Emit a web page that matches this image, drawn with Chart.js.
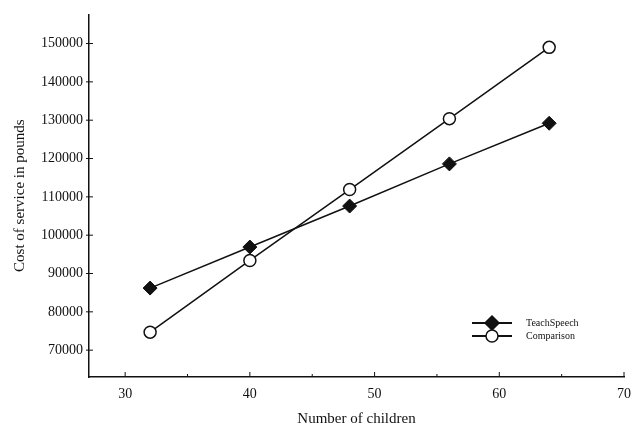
<!DOCTYPE html>
<html>
<head>
<meta charset="utf-8">
<script src="https://cdn.jsdelivr.net/npm/chart.js@4/dist/chart.umd.min.js"></script>
<style>
  html, body { margin: 0; padding: 0; background: #fff; }
  #wrap { width: 632px; height: 433px; }
</style>
</head>
<body>
<div id="wrap"><canvas id="chart" width="632" height="433"></canvas></div>
<script>
// data
const children = [32, 40, 48, 56, 64];
const teachSpeech = [86200, 96900, 107600, 118600, 129200];
const comparison = [74700, 93400, 111900, 130400, 149000];
const xTicks = [30, 40, 50, 60, 70];
const yTicks = [70000, 80000, 90000, 100000, 110000, 120000, 130000, 140000, 150000];
const seriesNames = ["TeachSpeech", "Comparison"];

const serif = "'Liberation Serif', 'DejaVu Serif', serif";
const ink = "#111";

function toPoints(xs, ys) {
  return xs.map((x, i) => ({ x: x, y: ys[i] }));
}

// small ticks like the original plot
const innerTicks = {
  id: "innerTicks",
  afterDraw(chart) {
    const ctx = chart.ctx;
    const xs = chart.scales.x;
    const ys = chart.scales.y;
    const area = chart.chartArea;
    ctx.save();
    ctx.strokeStyle = ink;
    ctx.lineWidth = 1;
    ctx.beginPath();
    xTicks.forEach(v => {
      const px = xs.getPixelForValue(v);
      ctx.moveTo(px, area.bottom);
      ctx.lineTo(px, area.bottom - 5);
    });
    xTicks.slice(0, -1).forEach(v => {
      const px = xs.getPixelForValue(v + 5);
      ctx.moveTo(px, area.bottom);
      ctx.lineTo(px, area.bottom - 3);
    });
    yTicks.forEach(v => {
      const py = ys.getPixelForValue(v);
      ctx.moveTo(area.left - 3, py);
      ctx.lineTo(area.left + 4, py);
    });
    ctx.stroke();
    ctx.restore();
  }
};

// legend drawn inside the plot, bottom right
const lineLegend = {
  id: "lineLegend",
  afterDraw(chart) {
    const ctx = chart.ctx;
    const area = chart.chartArea;
    const x0 = area.right - 152;
    const y0 = area.bottom - 54;
    ctx.save();
    chart.data.datasets.forEach((ds, i) => {
      const y = y0 + i * 13;
      ctx.strokeStyle = ink;
      ctx.lineWidth = 2;
      ctx.beginPath();
      ctx.moveTo(x0, y);
      ctx.lineTo(x0 + 40, y);
      ctx.stroke();
      ctx.lineWidth = 1.5;
      ctx.fillStyle = ds.pointBackgroundColor;
      ctx.beginPath();
      if (ds.pointStyle === "rectRot") {
        const r = 7;
        ctx.moveTo(x0 + 20, y - r);
        ctx.lineTo(x0 + 20 + r, y);
        ctx.lineTo(x0 + 20, y + r);
        ctx.lineTo(x0 + 20 - r, y);
        ctx.closePath();
      } else {
        ctx.arc(x0 + 20, y, 6, 0, Math.PI * 2);
      }
      ctx.fill();
      ctx.stroke();
      ctx.fillStyle = ink;
      ctx.font = "10px " + serif;
      ctx.textBaseline = "middle";
      ctx.fillText(ds.label, x0 + 54, y);
    });
    ctx.restore();
  }
};

new Chart(document.getElementById("chart"), {
  type: "line",
  data: {
    datasets: [
      {
        label: seriesNames[0],
        data: toPoints(children, teachSpeech),
        borderColor: ink,
        borderWidth: 1.5,
        pointStyle: "rectRot",
        pointRadius: 7,
        pointBackgroundColor: ink,
        pointBorderColor: ink,
        pointBorderWidth: 1
      },
      {
        label: seriesNames[1],
        data: toPoints(children, comparison),
        borderColor: ink,
        borderWidth: 1.5,
        pointStyle: "circle",
        pointRadius: 6,
        pointBackgroundColor: "#fff",
        pointBorderColor: ink,
        pointBorderWidth: 1.5
      }
    ]
  },
  options: {
    responsive: false,
    animation: false,
    layout: { padding: { top: 2, right: 7, bottom: 5, left: 8 } },
    plugins: {
      legend: { display: false },
      tooltip: { enabled: false }
    },
    scales: {
      x: {
        type: "linear",
        min: 27.1,
        max: 70,
        afterBuildTicks: axis => { axis.ticks = xTicks.map(v => ({ value: v })); },
        afterFit: axis => { axis.height = 51; axis.paddingRight = 0; },
        grid: { display: false, drawTicks: false, tickLength: 0 },
        border: { display: true, color: ink, width: 1.5 },
        ticks: { color: ink, padding: 9, font: { family: serif, size: 14 }, callback: v => String(v) },
        title: {
          display: true,
          text: "Number of children",
          color: ink,
          padding: { top: 0, bottom: 0 },
          font: { family: serif, size: 15 }
        }
      },
      y: {
        type: "linear",
        min: 63000,
        max: 157600,
        afterBuildTicks: axis => { axis.ticks = yTicks.map(v => ({ value: v })); },
        afterFit: axis => { axis.width = 81; },
        grid: { display: false, drawTicks: false, tickLength: 0 },
        border: { display: true, color: ink, width: 1.5 },
        ticks: { color: ink, padding: 6, font: { family: serif, size: 14 }, callback: v => String(v) },
        title: {
          display: true,
          text: "Cost of service in pounds",
          color: ink,
          padding: { top: 3, bottom: 0 },
          font: { family: serif, size: 15 }
        }
      }
    }
  },
  plugins: [innerTicks, lineLegend]
});
</script>
</body>
</html>
